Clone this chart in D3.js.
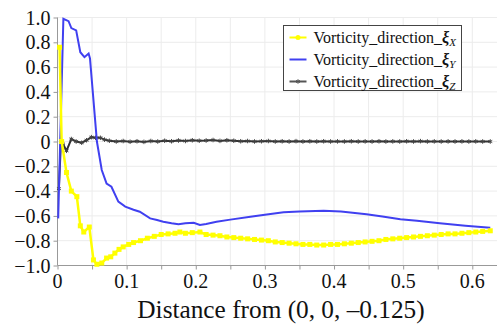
<!DOCTYPE html>
<html>
<head>
<meta charset="utf-8">
<script src="https://cdn.jsdelivr.net/npm/d3@7"></script>
<style>
  body { margin: 0; background: #fff; }
</style>
</head>
<body>
<div id="chart"></div>
<script>
// x (distance), y (vorticity direction component)
const xiX = [
  [0.003, 0.76], [0.006, 0.0], [0.013, -0.25], [0.02, -0.40], [0.028, -0.445],
  [0.033, -0.68], [0.038, -0.73], [0.046, -0.69], [0.052, -0.955], [0.057, -0.99],
  [0.064, -0.98], [0.071, -0.94], [0.077, -0.93], [0.083, -0.90], [0.089, -0.87],
  [0.095, -0.85], [0.103, -0.83], [0.11, -0.815], [0.12, -0.80], [0.13, -0.78],
  [0.14, -0.765], [0.15, -0.75], [0.16, -0.745], [0.17, -0.74], [0.177, -0.73],
  [0.185, -0.74], [0.195, -0.735], [0.206, -0.73], [0.215, -0.75], [0.225, -0.755],
  [0.235, -0.76], [0.245, -0.77], [0.255, -0.775], [0.265, -0.78], [0.275, -0.785],
  [0.285, -0.79], [0.295, -0.795], [0.305, -0.80], [0.315, -0.81], [0.325, -0.815],
  [0.335, -0.82], [0.345, -0.825], [0.355, -0.83], [0.365, -0.83], [0.375, -0.835],
  [0.385, -0.835], [0.395, -0.83], [0.405, -0.83], [0.415, -0.825], [0.425, -0.82],
  [0.435, -0.815], [0.445, -0.81], [0.455, -0.805], [0.465, -0.80], [0.475, -0.79],
  [0.485, -0.785], [0.495, -0.78], [0.505, -0.775], [0.515, -0.77], [0.525, -0.765],
  [0.535, -0.76], [0.545, -0.755], [0.555, -0.75], [0.565, -0.745], [0.575, -0.745],
  [0.585, -0.74], [0.595, -0.735], [0.605, -0.73], [0.615, -0.725], [0.626, -0.72]
];
const xiY = [
  [0.001, -0.62], [0.0085, 0.99], [0.016, 0.97], [0.02, 0.915], [0.027, 0.896],
  [0.033, 0.72], [0.039, 0.68], [0.045, 0.71], [0.047, 0.67], [0.057, 0.0],
  [0.064, -0.23], [0.071, -0.34], [0.078, -0.365], [0.088, -0.485], [0.098, -0.525],
  [0.11, -0.55], [0.119, -0.566], [0.134, -0.62], [0.144, -0.633], [0.153, -0.647],
  [0.165, -0.66], [0.175, -0.668], [0.185, -0.66], [0.197, -0.655], [0.206, -0.673],
  [0.215, -0.665], [0.23, -0.647], [0.25, -0.63], [0.279, -0.606], [0.30, -0.59],
  [0.327, -0.571], [0.35, -0.565], [0.385, -0.558], [0.41, -0.565], [0.447, -0.587],
  [0.47, -0.605], [0.496, -0.627], [0.52, -0.64], [0.553, -0.66], [0.59, -0.68],
  [0.626, -0.695]
];
const xiZ = [
  [0.002, -0.38], [0.005, 0.0], [0.008, -0.02], [0.013, -0.075], [0.02, 0.02],
  [0.027, 0.0], [0.035, -0.01], [0.042, 0.01], [0.049, 0.035], [0.055, 0.03],
  [0.062, 0.03], [0.068, 0.015], [0.075, 0.006], [0.085, 0.0], [0.095, 0.004],
  [0.105, -0.002], [0.115, 0.002], [0.125, -0.003], [0.135, 0.004], [0.145, 0.0],
  [0.155, 0.006], [0.165, 0.002], [0.175, 0.008], [0.185, 0.004], [0.195, 0.01],
  [0.205, 0.006], [0.215, 0.008], [0.225, 0.012], [0.235, 0.005], [0.245, 0.01],
  [0.255, 0.006], [0.265, 0.002], [0.275, 0.004], [0.285, 0.0], [0.295, 0.002],
  [0.305, 0.004], [0.315, 0.0], [0.325, 0.002], [0.335, 0.0], [0.345, 0.003],
  [0.355, 0.0], [0.365, 0.002], [0.375, 0.0], [0.385, 0.002], [0.395, 0.0],
  [0.405, 0.001], [0.415, 0.0], [0.425, 0.002], [0.435, 0.0], [0.445, 0.001],
  [0.455, 0.0], [0.465, 0.002], [0.475, 0.0], [0.485, 0.001], [0.495, 0.0],
  [0.505, 0.002], [0.515, 0.0], [0.525, 0.003], [0.535, 0.0], [0.545, 0.001],
  [0.555, 0.0], [0.565, 0.001], [0.575, 0.0], [0.585, 0.001], [0.595, 0.0],
  [0.605, 0.001], [0.615, 0.0], [0.626, 0.0]
];
const xTicks = [0, 0.1, 0.2, 0.3, 0.4, 0.5, 0.6];
const xMinor = [0, 0.05, 0.1, 0.15, 0.2, 0.25, 0.3, 0.35, 0.4, 0.45, 0.5, 0.55, 0.6];
const yTicks = [1.0, 0.8, 0.6, 0.4, 0.2, 0, -0.2, -0.4, -0.6, -0.8, -1.0];
const seriesNames = ["X", "Y", "Z"];

const FONT = "Liberation Serif";
const W = 497, H = 325;
const margin = {top: 17.5, right: 0, bottom: 59.5, left: 57.5};
const innerW = W - margin.left - margin.right;
const innerH = H - margin.top - margin.bottom;

const svg = d3.select("#chart").append("svg")
  .attr("width", W).attr("height", H)
  .attr("font-family", FONT);
const g = svg.append("g")
  .attr("transform", "translate(" + margin.left + "," + margin.top + ")");

const x = d3.scaleLinear().domain([0, 0.6]).range([0, 414.8]);
const y = d3.scaleLinear().domain([-1, 1]).range([innerH, 0]);

// grid
g.append("g").selectAll("line").data(xMinor.slice(1)).join("line")
  .attr("x1", d => x(d)).attr("x2", d => x(d))
  .attr("y1", 0).attr("y2", innerH)
  .attr("stroke", "#ececec").attr("stroke-width", 1);
g.append("g").selectAll("line").data(yTicks).join("line")
  .attr("x1", 0).attr("x2", innerW)
  .attr("y1", d => y(d)).attr("y2", d => y(d))
  .attr("stroke", "#ececec").attr("stroke-width", 1);

const fmt = d => d === 0 ? "0" : d3.format(".1f")(d).replace("-", "\u2013");

// axes
const xAxis = g.append("g")
  .attr("transform", "translate(0," + innerH + ")")
  .call(d3.axisBottom(x).tickValues(xMinor).tickSize(4).tickFormat(""));
xAxis.select(".domain").attr("d", "M0,0H" + innerW);
xAxis.selectAll("line").attr("stroke", "#999");
xAxis.select(".domain").attr("stroke", "#999");
g.append("g").selectAll("text").data(xTicks).join("text")
  .attr("x", d => x(d)).attr("y", innerH + 22)
  .attr("text-anchor", "middle")
  .attr("font-family", FONT)
  .attr("font-size", 20).attr("fill", "#111")
  .text(fmt);

const yAxis = g.append("g")
  .call(d3.axisLeft(y).tickValues(yTicks).tickSize(4).tickFormat(""));
yAxis.select(".domain").attr("d", "M0," + innerH + "V0");
yAxis.selectAll("line").attr("stroke", "#999");
yAxis.select(".domain").attr("stroke", "#999");
g.append("g").selectAll("text").data(yTicks).join("text")
  .attr("x", -7).attr("y", d => y(d))
  .attr("dy", "0.35em")
  .attr("text-anchor", "end")
  .attr("font-family", FONT)
  .attr("font-size", 20).attr("fill", "#111")
  .text(fmt);

svg.append("text")
  .attr("x", 281).attr("y", 318)
  .attr("text-anchor", "middle")
  .attr("font-family", FONT)
  .attr("font-size", 25.3).attr("fill", "#111")
  .text("Distance from (0, 0, \u20130.125)");

const line = d3.line().x(d => x(d[0])).y(d => y(d[1]));
const plot = g.append("g");

// xi_Z (black with star markers)
plot.append("path").datum(xiZ)
  .attr("d", line).attr("fill", "none")
  .attr("stroke", "#333").attr("stroke-width", 2);
plot.append("g").selectAll("path").data(xiZ).join("path")
  .attr("transform", d => "translate(" + x(d[0]) + "," + y(d[1]) + ")")
  .attr("d", d3.symbol(d3.symbolAsterisk, 14))
  .attr("fill", "none").attr("stroke", "#444").attr("stroke-width", 1);

// xi_Y (blue)
plot.append("path").datum(xiY)
  .attr("d", line).attr("fill", "none")
  .attr("stroke", "#4040f0").attr("stroke-width", 2);

// xi_X (yellow with square markers)
plot.append("path").datum(xiX)
  .attr("d", line).attr("fill", "none")
  .attr("stroke", "#ffff00").attr("stroke-width", 2.5);
plot.append("g").selectAll("rect").data(xiX).join("rect")
  .attr("x", d => x(d[0]) - 2.5).attr("y", d => y(d[1]) - 2.5)
  .attr("width", 5).attr("height", 5)
  .attr("fill", "#ffff00");

// legend
const legend = svg.append("g").attr("transform", "translate(283.5,25.5)");
legend.append("rect")
  .attr("width", 178).attr("height", 65)
  .attr("fill", "#fff").attr("stroke", "#444").attr("stroke-width", 1);
const colors = ["#ffff00", "#4040f0", "#555"];
seriesNames.forEach((s, i) => {
  const yy = 12 + i * 22;
  legend.append("line")
    .attr("x1", 6).attr("x2", 23).attr("y1", yy).attr("y2", yy)
    .attr("stroke", colors[i]).attr("stroke-width", 2);
  if (i === 0) {
    legend.append("circle").attr("cx", 14.5).attr("cy", yy).attr("r", 2.5).attr("fill", colors[i]);
  } else if (i === 2) {
    legend.append("path").attr("transform", "translate(14.5," + yy + ")")
      .attr("d", d3.symbol(d3.symbolAsterisk, 14))
      .attr("fill", "none").attr("stroke", colors[i]);
  }
  const t = legend.append("text")
    .attr("x", 30).attr("y", yy).attr("dy", "0.35em")
    .attr("font-family", FONT)
    .attr("font-size", 16).attr("fill", "#111");
  t.append("tspan").text("Vorticity_direction_");
  t.append("tspan").attr("font-weight", "bold").attr("font-style", "italic").text("\u03be");
  t.append("tspan").attr("font-style", "italic").attr("font-size", 11).attr("dy", "0.3em").text(s);
});
</script>
</body>
</html>
